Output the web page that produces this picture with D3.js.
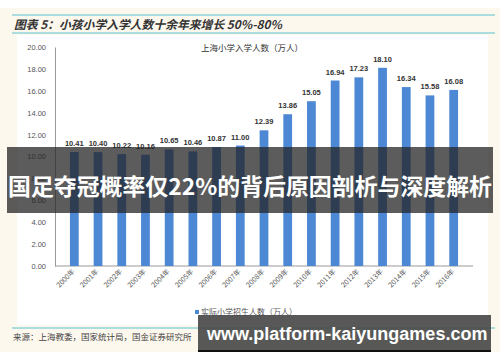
<!DOCTYPE html>
<meta charset="utf-8">
<style>
body { margin: 0; background: #fff; }
text { font-family: "Liberation Sans", Arial, sans-serif; }
.cjk { font-family: "Noto Sans CJK SC", sans-serif; }
</style>
<svg width="500" height="362"></svg>
<script src="https://d3js.org/d3.v7.min.js"></script>
<script>

var years = ["2000年","2001年","2002年","2003年","2004年","2005年","2006年","2007年","2008年",
             "2009年","2010年","2011年","2012年","2013年","2014年","2015年","2016年"];
var enrol = [10.41,10.40,10.22,10.16,10.65,10.46,10.87,11.00,12.39,
             13.86,15.05,16.94,17.23,18.10,16.34,15.58,16.08];
var yTicks = [0,2,4,6,8,10,12,14,16,18,20];

var svg = d3.select("svg");

// page background + white chart panel
svg.append("rect").attr("x", 0).attr("y", 8).attr("width", 500).attr("height", 344).attr("fill", "#fdf8ee");
svg.append("rect").attr("x", 17).attr("y", 35).attr("width", 471).attr("height", 290).attr("fill", "#fff");

// title lines
[15, 33, 328].forEach(function(y) {
  svg.append("line").attr("x1", 12).attr("x2", 495).attr("y1", y).attr("y2", y)
    .attr("stroke", "#8fd3d8").attr("stroke-width", 1.5);
});
svg.append("text").attr("class", "cjk")
  .attr("x", 14).attr("y", 29)
  .attr("font-size", 11.8).attr("font-weight", "bold").attr("font-style", "italic")
  .attr("fill", "#333")
  .text("图表 5：小孩小学入学人数十余年来增长 50%-80%");

var x = d3.scaleBand().domain(years).range([55, 473]).padding(0.63);
var y = d3.scaleLinear().domain([0, 20]).range([266, 47]);

// y axis
var gy = svg.append("g").attr("transform", "translate(55,0)")
  .call(d3.axisLeft(y).tickValues(yTicks).tickSize(0).tickPadding(9).tickFormat(d3.format(".2f")));
gy.select(".domain").attr("stroke", "#999");
gy.selectAll("text").attr("font-size", 7.5).attr("fill", "#555")
  .attr("font-family", "Liberation Sans, Arial, sans-serif");

// x axis
var gx = svg.append("g").attr("transform", "translate(0,266)")
  .call(d3.axisBottom(x).tickSize(0).tickPadding(0));
gx.select(".domain").attr("stroke", "#999").attr("d", "M55,0H473");
gx.selectAll("text")
  .attr("class", "cjk")
  .attr("font-size", 7).attr("fill", "#555")
  .attr("text-anchor", "end")
  .attr("dy", 0)
  .attr("transform", "translate(1,6) rotate(-45)");

// bars
svg.selectAll(".bar").data(enrol).enter().append("rect")
  .attr("class", "bar")
  .attr("x", function(d, i) { return x(years[i]); })
  .attr("width", x.bandwidth())
  .attr("y", function(d) { return y(d); })
  .attr("height", function(d) { return y(0) - y(d); })
  .attr("fill", "#4d88d4");

svg.selectAll(".lbl").data(enrol).enter().append("text")
  .attr("class", "lbl")
  .attr("x", function(d, i) { return x(years[i]) + x.bandwidth() / 2; })
  .attr("y", function(d) { return y(d) - 6; })
  .attr("text-anchor", "middle")
  .attr("font-size", 7.5).attr("font-weight", "bold").attr("fill", "#333")
  .text(function(d) { return d.toFixed(2); });

// chart title
svg.append("text").attr("class", "cjk")
  .attr("x", 252).attr("y", 51).attr("text-anchor", "middle")
  .attr("font-size", 8.5).attr("fill", "#333")
  .text("上海小学入学人数（万人）");

// legend
svg.append("rect").attr("x", 195).attr("y", 310).attr("width", 4).attr("height", 4).attr("fill", "#4d88d4");
svg.append("text").attr("class", "cjk")
  .attr("x", 201).attr("y", 315)
  .attr("font-size", 8).attr("fill", "#555")
  .text("实际小学招生人数（万人）");

// source
svg.append("text").attr("class", "cjk")
  .attr("x", 13).attr("y", 340)
  .attr("font-size", 8.5).attr("fill", "#444")
  .text("来源：上海教委，国家统计局，国金证券研究所");

// overlay banner
svg.append("rect").attr("x", 7).attr("y", 147).attr("width", 486).attr("height", 66)
  .attr("fill", "rgba(35,35,35,0.74)");
svg.append("text").attr("class", "cjk")
  .attr("x", 250).attr("y", 195).attr("text-anchor", "middle")
  .attr("font-size", 22.6).attr("font-weight", "bold").attr("fill", "#fff")
  .attr("textLength", 484).attr("lengthAdjust", "spacingAndGlyphs")
  .text("国足夺冠概率仅22%的背后原因剖析与深度解析");

// site badge
svg.append("rect").attr("x", 198).attr("y", 315).attr("width", 293).attr("height", 36)
  .attr("fill", "rgba(70,70,70,0.9)");
svg.append("line").attr("x1", 198).attr("x2", 491).attr("y1", 351).attr("y2", 351)
  .attr("stroke", "#111").attr("stroke-width", 2);
svg.append("text")
  .attr("x", 207).attr("y", 340)
  .attr("font-family", "Open Sans, Noto Sans, sans-serif")
  .attr("font-size", 18).attr("font-weight", "bold").attr("fill", "#fff")
  .text("www.platform-kaiyungames.com");

</script>
